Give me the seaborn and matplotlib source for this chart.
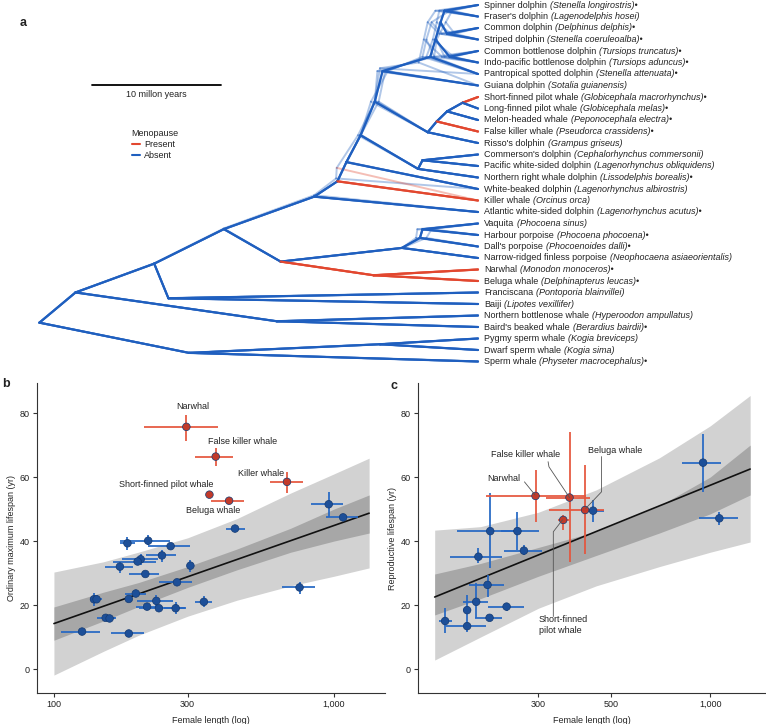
import numpy as np
import pandas as pd
import seaborn as sns
import matplotlib.pyplot as plt
from matplotlib.lines import Line2D
from matplotlib.ticker import NullLocator

# ---------------- panel a: phylogeny ----------------
tip_names = [
    "Spinner dolphin", "Fraser's dolphin", "Common dolphin", "Striped dolphin",
    "Common bottlenose dolphin", "Indo-pacific bottlenose dolphin",
    "Pantropical spotted dolphin", "Guiana dolphin", "Short-finned pilot whale",
    "Long-finned pilot whale", "Melon-headed whale", "False killer whale",
    "Risso's dolphin", "Commerson's dolphin", "Pacific white-sided dolphin",
    "Northern right whale dolphin", "White-beaked dolphin", "Killer whale",
    "Atlantic white-sided dolphin", "Vaquita", "Harbour porpoise", "Dall's porpoise",
    "Narrow-ridged finless porpoise", "Narwhal", "Beluga whale", "Franciscana",
    "Baiji", "Northern bottlenose whale", "Baird's beaked whale",
    "Pygmy sperm whale", "Dwarf sperm whale", "Sperm whale",
]
tip_sci = [
    "Stenella longirostris", "Lagenodelphis hosei", "Delphinus delphis",
    "Stenella coeruleoalba", "Tursiops truncatus", "Tursiops aduncus",
    "Stenella attenuata", "Sotalia guianensis", "Globicephala macrorhynchus",
    "Globicephala melas", "Peponocephala electra", "Pseudorca crassidens",
    "Grampus griseus", "Cephalorhynchus commersonii", "Lagenorhynchus obliquidens",
    "Lissodelphis borealis", "Lagenorhynchus albirostris", "Orcinus orca",
    "Lagenorhynchus acutus", "Phocoena sinus", "Phocoena phocoena",
    "Phocoenoides dalli", "Neophocaena asiaeorientalis", "Monodon monoceros",
    "Delphinapterus leucas", "Pontoporia blainvillei", "Lipotes vexillifer",
    "Hyperoodon ampullatus", "Berardius bairdii", "Kogia breviceps",
    "Kogia sima", "Physeter macrocephalus",
]
tip_bullet = [1, 0, 1, 1, 1, 1, 1, 0, 1, 1, 1, 1, 0, 0, 0, 1,
              0, 0, 1, 0, 1, 1, 0, 1, 1, 0, 0, 0, 1, 0, 0, 1]

# (node, age in million years, children); ints are tips
clades = [
    ("root", 34.0, ["odont", "phys"]),
    ("phys", 22.4, ["kogia", 31]),
    ("kogia", 7.6, [29, 30]),
    ("odont", 31.2, ["B", "ziph"]),
    ("ziph", 15.6, [27, 28]),
    ("B", 25.1, ["inioid", "delphinoid"]),
    ("inioid", 24.0, [25, 26]),
    ("delphinoid", 19.7, ["monophoc", "delphinid"]),
    ("monophoc", 15.3, ["phoc1", "monodontid"]),
    ("monodontid", 8.1, [23, 24]),
    ("phoc1", 5.9, ["phoc2", 22]),
    ("phoc2", 4.5, ["phoc3", 21]),
    ("phoc3", 4.3, [19, 20]),
    ("delphinid", 12.7, ["k", 18]),
    ("k", 10.9, ["w", 17]),
    ("w", 10.2, ["l", 16]),
    ("l", 9.1, ["gd", "liss"]),
    ("liss", 4.65, ["liss2", 15]),
    ("liss2", 4.3, [13, 14]),
    ("gd", 8.0, ["d0", "glob1"]),
    ("glob1", 3.9, ["glob2", 12]),
    ("glob2", 3.2, ["glob3", 11]),
    ("glob3", 2.4, ["glob4", 10]),
    ("glob4", 1.2, [8, 9]),
    ("d0", 7.4, ["d1", 7]),
    ("d1", 3.7, ["d2", 6]),
    ("d2", 3.3, ["d3", "d6"]),
    ("d3", 2.9, ["d4", "d5"]),
    ("d4", 2.6, [0, 1]),
    ("d5", 2.4, [2, 3]),
    ("d6", 2.2, [4, 5]),
]
red_branches = [8, 11, 17, "monodontid", 23, 24]
# other posterior trees: (node age overrides, topology overrides), drawn faintly
alt_trees = [
    ({"d0": 7.0, "d1": 4.3, "d2": 4.0, "d3": 3.6, "d4": 2.2, "d5": 2.8, "d6": 3.4,
      "phoc2": 4.0, "phoc3": 3.6, "gd": 8.3}, {}),
    ({"d0": 7.8, "d1": 3.4, "d2": 3.2, "d3": 2.5, "d4": 2.0, "d5": 1.8, "d6": 2.6,
      "phoc2": 4.8, "phoc3": 4.7}, {}),
    ({"d0": 7.2, "d1": 4.0, "d2": 3.5, "d3": 3.2, "d4": 3.0, "d5": 2.1, "d6": 1.9,
      "gd": 7.7}, {}),
    ({"d0": 7.6, "d1": 4.6, "d2": 4.2, "d3": 3.9, "d4": 3.3, "d5": 3.0, "d6": 2.8},
     {"d1": ["d2", 7], "d0": ["d1", 6]}),
    ({"w": 10.95, "k": 11.0, "l": 9.3}, {"w": ["l", 17], "k": ["w", 16]}),
]

# ---------------- panel b ----------------
b_blue_x = [957, 1077, 443, 753, 183, 217, 261, 243, 204, 199, 172, 307, 212, 275,
            139, 142, 196, 185, 232, 343, 215, 237, 272, 153, 158, 126, 185]
b_blue_xlo = [830, 933, 412, 653, 172, 172, 217, 214, 175, 162, 152, 302, 186, 238,
              134, 137, 179, 180, 198, 318, 197, 202, 248, 142, 150, 106, 160]
b_blue_xhi = [1077, 1218, 480, 853, 194, 259, 307, 272, 235, 232, 191, 312, 238, 312,
              145, 148, 214, 190, 266, 367, 232, 293, 295, 165, 166, 146, 209]
b_blue_y = [51.5, 47.4, 43.9, 25.5, 39.3, 40.1, 38.4, 35.5, 34.3, 33.6, 32.0, 32.3,
            29.7, 27.1, 21.8, 21.8, 23.6, 21.9, 21.3, 21.0, 19.5, 19.0, 19.0, 16.0,
            15.8, 11.7, 11.1]
b_blue_ylo = [47.4, 47.0, 43.5, 23.6, 37.2, 38.8, 38.0, 33.5, 32.5, 33.2, 29.9, 30.4,
              29.3, 26.7, 19.7, 20.5, 23.2, 21.5, 19.3, 19.5, 19.1, 18.6, 17.2, 15.0,
              15.4, 11.3, 10.7]
b_blue_yhi = [55.4, 47.8, 44.3, 27.3, 41.4, 41.9, 38.8, 37.2, 36.1, 34.0, 33.5, 34.1,
              30.1, 27.5, 23.9, 23.1, 24.0, 22.3, 23.1, 22.8, 19.9, 19.4, 20.8, 17.0,
              16.2, 12.1, 11.5]
b_red_names = ["Narwhal", "False killer whale", "Killer whale",
               "Short-finned pilot whale", "Beluga whale"]
b_red_x = [297, 378, 679, 359, 422]
b_red_xlo = [209, 318, 593, 350, 365]
b_red_xhi = [385, 435, 774, 370, 476]
b_red_y = [75.7, 66.4, 58.5, 54.5, 52.6]
b_red_ylo = [71.3, 63.4, 55.1, 54.0, 52.2]
b_red_yhi = [79.4, 69.0, 61.7, 55.0, 53.0]
b_fit_x = [100, 1334]
b_fit_y = [14.2, 48.7]
b_band_x = [100, 150, 200, 300, 450, 700, 1000, 1334]
b_light_lo = [-1.9, 5.5, 10.5, 16.5, 21.5, 26.0, 29.0, 31.6]
b_dark_lo = [9.0, 15.0, 19.5, 25.5, 31.0, 36.5, 40.0, 42.5]
b_dark_hi = [19.4, 24.0, 27.0, 32.0, 37.5, 44.0, 50.0, 54.4]
b_light_hi = [30.3, 33.5, 36.5, 41.0, 47.0, 55.0, 61.0, 65.9]

# ---------------- panel c ----------------
c_blue_x = [951, 1066, 440, 214, 259, 271, 197, 210, 194, 240, 182, 213, 156, 182]
c_blue_xlo = [821, 922, 408, 170, 230, 236, 161, 185, 177, 210, 177, 193, 149, 157]
c_blue_xhi = [1079, 1218, 475, 260, 301, 308, 233, 236, 210, 272, 187, 233, 164, 208]
c_blue_y = [64.5, 47.1, 49.5, 43.1, 43.1, 37.0, 35.1, 26.3, 21.0, 19.5, 18.4, 16.0,
            15.0, 13.4]
c_blue_ylo = [55.4, 45.0, 46.0, 31.5, 37.2, 35.6, 33.0, 22.6, 15.8, 18.2, 15.3, 15.6,
              11.1, 11.7]
c_blue_yhi = [73.6, 49.2, 52.8, 54.9, 49.2, 38.8, 37.7, 29.4, 26.8, 20.7, 23.1, 16.4,
              19.0, 15.3]
c_red_names = ["Narwhal", "False killer whale", "Beluga whale",
               "Short-finned pilot whale"]
c_red_x = [294, 373, 416, 357]
c_red_xlo = [208, 316, 323, 343]
c_red_xhi = [418, 430, 475, 372]
c_red_y = [54.1, 53.6, 49.7, 46.6]
c_red_ylo = [46.0, 33.5, 35.9, 43.4]
c_red_yhi = [62.2, 74.2, 63.8, 48.1]
c_fit_x = [145, 1323]
c_fit_y = [22.5, 62.5]
c_band_x = [145, 200, 300, 450, 700, 1000, 1323]
c_light_lo = [2.8, 10.0, 19.0, 26.0, 32.0, 36.5, 39.7]
c_dark_lo = [16.9, 22.0, 29.0, 35.5, 42.5, 48.5, 54.4]
c_dark_hi = [29.7, 33.0, 38.0, 43.0, 51.0, 60.0, 70.0]
c_light_hi = [43.4, 44.5, 49.0, 56.0, 66.0, 76.0, 85.5]

BLUE = "#1f5fbf"
RED = "#e2472f"
PT_BLUE = "#1d4f98"
PT_RED = "#c23a2a"
ERR_BLUE = "#2467c4"
ERR_RED = "#e5553c"
TXT = "#222222"

sns.set_theme(style="ticks")
plt.rcParams["font.family"] = ["Liberation Sans", "DejaVu Sans"]
plt.rcParams["text.color"] = TXT

W, H = 766, 724
fig = plt.figure(figsize=(W / 100, H / 100), dpi=100)


def px_box(x0, y0, x1, y1):
    return [x0 / W, 1 - y1 / H, (x1 - x0) / W, (y1 - y0) / H]


# ---------- tree ----------
ax_t = fig.add_axes(px_box(0, 0, W, 380))
ax_t.set_xlim(-478 / 12.9, (W - 478) / 12.9)
ax_t.set_ylim((380 - 5) / 11.5, -5 / 11.5)
ax_t.axis("off")

base_ages = {name: age for name, age, _ in clades}
base_kids = {name: kids for name, _, kids in clades}


def node_y(n, kids_map):
    if isinstance(n, int):
        return float(n)
    return np.mean([node_y(k, kids_map) for k in kids_map[n]])


def draw_tree(age_over, kid_over, alpha, lw):
    ages = {**base_ages, **age_over}
    kids_map = {**base_kids, **kid_over}
    for name in kids_map:
        py = node_y(name, kids_map)
        for k in kids_map[name]:
            ka = 0.0 if isinstance(k, int) else ages[k]
            col = RED if k in red_branches else BLUE
            ax_t.plot([-ages[name], -ka], [py, node_y(k, kids_map)], color=col,
                      lw=lw, alpha=alpha, solid_capstyle="round", zorder=2)


for age_over, kid_over in alt_trees:
    draw_tree(age_over, kid_over, 0.35, 1.4)
draw_tree({}, {}, 1.0, 1.6)

for i, (cn, sn, bl) in enumerate(zip(tip_names, tip_sci, tip_bullet)):
    t1 = ax_t.annotate(cn, xy=(0, i), xytext=(4.5, 0), textcoords="offset points",
                       va="center", ha="left", fontsize=6.5)
    ax_t.annotate("(" + sn + ")" + ("\u2022" if bl else ""), xy=(1, 0), xycoords=t1,
                  xytext=(1.9, 0), textcoords="offset points", va="bottom",
                  ha="left", fontsize=6.5, style="italic")

# scale bar
ax_t.plot([-29.9, -19.9], [6.96, 6.96], color="black", lw=1.3)
ax_t.text(-24.9, 7.75, "10 millon years", ha="center", va="center", fontsize=6.5)

handles = [Line2D([], [], color=RED, lw=1.5), Line2D([], [], color=BLUE, lw=1.5)]
leg = ax_t.legend(handles, ["Present", "Absent"], title="Menopause",
                  loc="upper left", bbox_to_anchor=(127 / W, 1 - 124 / H),
                  bbox_transform=fig.transFigure, frameon=False, fontsize=6.5,
                  title_fontsize=6.5, handlelength=0.9, handletextpad=0.5,
                  labelspacing=0.25, borderpad=0, alignment="left")

fig.text(23 / W, 1 - 23 / H, "a", fontsize=9, weight="bold", ha="center", va="center")
fig.text(6 / W, 1 - 384 / H, "b", fontsize=9, weight="bold", ha="center", va="center")
fig.text(394 / W, 1 - 386 / H, "c", fontsize=9, weight="bold", ha="center", va="center")


def make_df(x, xlo, xhi, y, ylo, yhi, group):
    return pd.DataFrame({"length": x, "xlo": xlo, "xhi": xhi, "lifespan": y,
                         "ylo": ylo, "yhi": yhi, "menopause": group})


def scatter_panel(ax, df, band_x, l_lo, d_lo, d_hi, l_hi, fit_x, fit_y):
    ax.fill_between(band_x, l_lo, l_hi, color="#d2d2d2", lw=0, zorder=0)
    ax.fill_between(band_x, d_lo, d_hi, color="#a7a7a7", lw=0, zorder=0.5)
    ax.plot(fit_x, fit_y, color="#111111", lw=1.2, zorder=1)
    for grp, ec in [("Absent", ERR_BLUE), ("Present", ERR_RED)]:
        d = df[df["menopause"] == grp]
        ax.errorbar(d["length"], d["lifespan"],
                    xerr=[d["length"] - d["xlo"], d["xhi"] - d["length"]],
                    yerr=[d["lifespan"] - d["ylo"], d["yhi"] - d["lifespan"]],
                    fmt="none", ecolor=ec, elinewidth=1.25, capsize=0, zorder=2)
    sns.scatterplot(data=df, x="length", y="lifespan", hue="menopause",
                    palette={"Absent": PT_BLUE, "Present": PT_RED}, s=30,
                    edgecolor="#143a72", linewidth=0.5, legend=False, ax=ax, zorder=3)
    ax.set_xscale("log")
    ax.xaxis.set_minor_locator(NullLocator())
    ax.set_ylim(-7.5, 89.4)
    ax.set_yticks([0, 20, 40, 60, 80])
    sns.despine(ax=ax)
    for s in ["left", "bottom"]:
        ax.spines[s].set_color("#333333")
        ax.spines[s].set_linewidth(0.8)
    ax.tick_params(direction="out", length=3, width=0.8, color="#333333",
                   labelsize=6.5, labelcolor=TXT, pad=2)
    ax.set_xlabel("Female length (log)", fontsize=6.5, labelpad=5)
    ax.set_facecolor("none")


# ---------- panel b ----------
df_b = pd.concat([
    make_df(b_blue_x, b_blue_xlo, b_blue_xhi, b_blue_y, b_blue_ylo, b_blue_yhi, "Absent"),
    make_df(b_red_x, b_red_xlo, b_red_xhi, b_red_y, b_red_ylo, b_red_yhi, "Present"),
], ignore_index=True)
ax_b = fig.add_axes(px_box(37, 383, 385, 693))
scatter_panel(ax_b, df_b, b_band_x, b_light_lo, b_dark_lo, b_dark_hi, b_light_hi,
              b_fit_x, b_fit_y)
ax_b.set_xlim(87, 1520)
ax_b.set_xticks([100, 300, 1000])
ax_b.set_xticklabels(["100", "300", "1,000"])
ax_b.set_ylabel("Ordinary maximum lifespan (yr)", fontsize=6.5, labelpad=3)

b_labels = {"Narwhal": (313, 82.2), "False killer whale": (473, 71.0),
            "Killer whale": (550, 61.1), "Short-finned pilot whale": (252, 57.7),
            "Beluga whale": (370, 49.5)}
for name, (tx, ty) in b_labels.items():
    ax_b.text(tx, ty, name, ha="center", va="center", fontsize=6.5)

# ---------- panel c ----------
df_c = pd.concat([
    make_df(c_blue_x, c_blue_xlo, c_blue_xhi, c_blue_y, c_blue_ylo, c_blue_yhi, "Absent"),
    make_df(c_red_x, c_red_xlo, c_red_xhi, c_red_y, c_red_ylo, c_red_yhi, "Present"),
], ignore_index=True)
ax_c = fig.add_axes(px_box(418, 383, 765, 693))
scatter_panel(ax_c, df_c, c_band_x, c_light_lo, c_dark_lo, c_dark_hi, c_light_hi,
              c_fit_x, c_fit_y)
ax_c.set_xlim(129, 1468)
ax_c.set_xticks([300, 500, 1000])
ax_c.set_xticklabels(["300", "500", "1,000"])
ax_c.set_ylabel("Reproductive lifespan (yr)", fontsize=6.5, labelpad=3)

c_labels = {"False killer whale": (275, 66.9, "center"), "Narwhal": (236, 59.6, "center"),
            "Beluga whale": (515, 68.2, "center"),
            "Short-finned\npilot whale": (301, 13.75, "left")}
for name, (tx, ty, ha) in c_labels.items():
    ax_c.text(tx, ty, name, ha=ha, va="center", fontsize=6.5, linespacing=1.25)

leaders = [([321, 323, 373], [64.8, 63.2, 53.6]),
           ([272, 293], [58.5, 54.4]),
           ([467, 467, 418], [66.4, 55.4, 50.2]),
           ([333, 333, 355], [16.4, 42.9, 46.6])]
for lx, ly in leaders:
    ax_c.plot(lx, ly, color="#555555", lw=0.6, zorder=4)

fig.savefig("out.png", dpi=100)
